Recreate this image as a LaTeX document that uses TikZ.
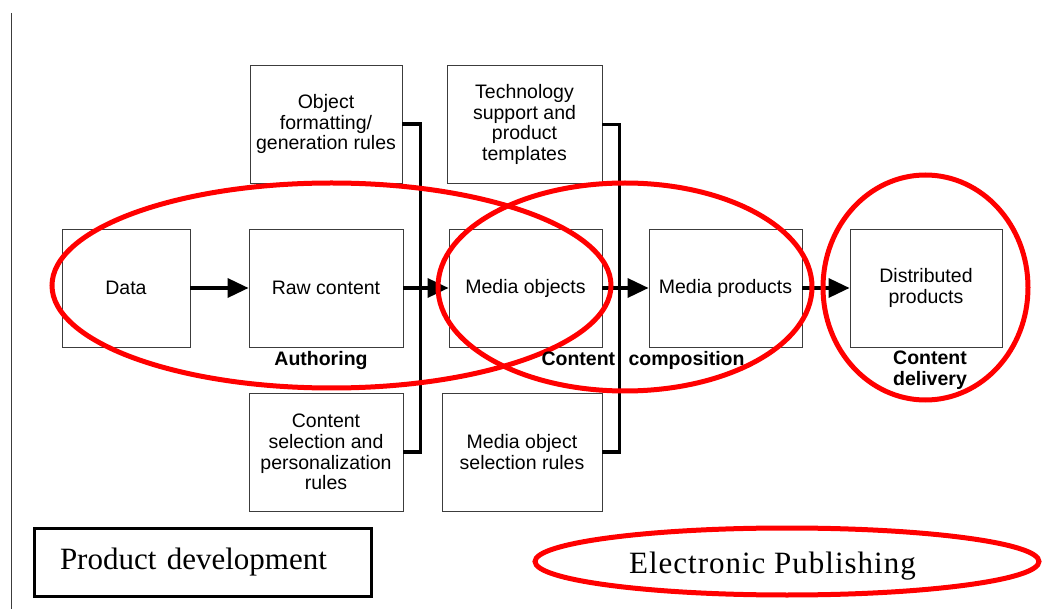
\documentclass[tikz,border=0pt]{standalone}
\usepackage{fontspec}
\setmainfont{Liberation Sans}
\newfontfamily\titleserif{Liberation Serif}
\newfontfamily\titleserifwide[LetterSpace=3.2]{Liberation Serif}
\usetikzlibrary{arrows.meta,shapes.geometric}
\definecolor{ringred}{RGB}{255,0,0}
\definecolor{boxline}{RGB}{60,60,60}

\tikzset{
  box/.style={draw=boxline, line width=0.9pt, align=center, inner sep=2pt,
    minimum height=118pt,
    font=\fontsize{19.5}{20.6}\selectfont},
  flow/.style={line width=3.5pt, -{Triangle[length=21pt,width=19pt]}},
  bracket/.style={line width=3.5pt, line join=miter},
  ring/.style={draw=ringred, line width=5pt},
  phase/.style={font=\bfseries\fontsize{19.5}{21}\selectfont, align=center},
  caption/.style={font=\titleserif\fontsize{31}{33}\selectfont},
  widecaption/.style={font=\titleserifwide\fontsize{31}{33}\selectfont},
}

\begin{document}
\begin{tikzpicture}[x=1pt, y=-1pt]
  \useasboundingbox (0,0) rectangle (1050,609);

  % page margin rule
  \draw[boxline, line width=1pt] (11,13) -- (11,609);

  % main chain
  \node[box, minimum width=128pt] (data) at (126,288) {Data};
  \node[box, minimum width=154pt] (raw) at (326,288) {Raw content};
  \node[box, minimum width=153pt] (mobj) at (525.5,288) {Media objects};
  \node[box, minimum width=153pt] (mprod) at (725.5,288) {Media products};
  \node[box, minimum width=152pt] (dist) at (926,288) {Distributed\\products};

  % rule boxes above and below
  \node[box, minimum width=152pt] (fmt) at (326,124) {Object\\formatting/\\generation rules};
  \node[box, minimum width=155pt] (tech) at (524.5,124.5) {Technology\\support and\\product\\templates};
  \node[box, minimum width=154pt] (csel) at (326,452) {Content\\selection and\\personalization\\rules};
  \node[box, minimum width=160pt] (msel) at (522,452) {Media object\\selection rules};

  % flow arrows
  \draw[flow] (data) -- (raw);
  \draw[flow] (raw) -- (mobj);
  \draw[flow] (mobj) -- (mprod);
  \draw[flow] (mprod) -- (dist);

  % rule brackets
  \draw[bracket] (fmt.east) -- ++(18,0) |- (csel.east);
  \draw[bracket] (tech.east) -- ++(17,0) |- (msel.east);

  % process groupings
  \draw[ring] (331.5,285.5) ellipse [x radius=279.5pt, y radius=102.5pt];
  \draw[ring] (625,287) ellipse [x radius=187pt, y radius=104pt];
  \draw[ring] (925.5,287.5) ellipse [x radius=102.5pt, y radius=112.5pt];

  % phase labels
  \node[phase, anchor=base] (auth) at (321,366) {Authoring};
  \node[phase, anchor=base west] (comp) at (538,366) {Content\hspace{8pt} composition};
  \node[phase] (deliv) at (930,370) {Content\\delivery};

  % legend
  \node[draw, line width=3pt, minimum width=337pt, minimum height=68pt,
        inner xsep=26pt, text width=285pt, align=left, caption]
        (pd) at (202.5,562) {Product development};
  \node[ring, ellipse, minimum width=504pt, minimum height=67pt, inner sep=0pt]
        (ep) at (787,561.5) {};
  \node[widecaption] (eptext) at (772.5,566) {Electronic Publishing};
\end{tikzpicture}
\end{document}
